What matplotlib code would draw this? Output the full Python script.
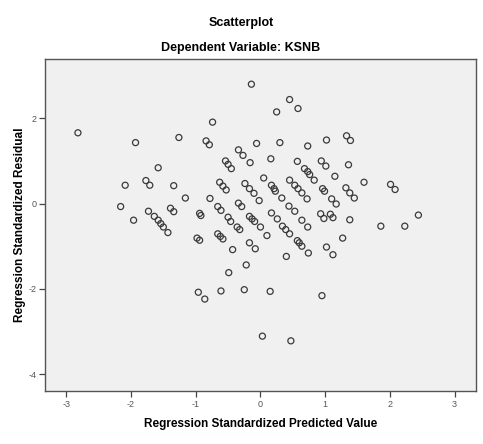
import matplotlib.pyplot as plt

# Regression Standardized Predicted Value
pred = [-0.14, -2.82, -1.93, -1.26, -0.74, -0.84, -0.79, -0.06, -0.34, -0.27,
        -0.16, -1.58, -0.54, -0.50, -0.45, -2.09, -1.77, -1.71, -1.34, -1.16,
        -0.78, -0.63, -0.58, -0.53, -0.24, -0.17, -0.10, -0.02, -2.16, -1.96,
        -1.73, -1.64, -1.58, -1.54, -1.50, -1.43, -1.39, -1.34, -0.94, -0.92,
        -0.66, -0.61, -0.34, -0.29, -0.50, -0.46, -0.36, -0.32, -0.17, -0.13,
        -0.09, 0.00, -0.98, -0.94, 0.30, 0.73, 0.16, 0.57, 0.94, 1.01,
        0.05, 0.45, 0.68, 0.73, 0.76, 0.83, 0.17, 0.21, 0.23, 0.53,
        0.58, 0.64, 0.72, 0.33, 0.96, 0.99, 0.17, 0.26, 0.44, 0.53,
        0.64, 0.73, 0.93, 0.98, 0.34, 0.39, 0.45, 0.10, -0.66, -0.62,
        -0.58, -0.43, -0.17, -0.08, 0.57, 0.60, 0.64, 0.74, 0.40, 1.02,
        0.45, 0.58, 0.25, 1.02, 1.33, 1.39, 1.36, 1.15, 1.60, 2.01,
        2.08, 2.44, 1.10, 1.17, 1.32, 1.38, 1.45, 1.08, 1.12, 1.38,
        1.86, 2.23, 1.27, 1.12, -0.22, -0.49, -0.96, -0.86, -0.61, -0.25,
        0.15, 0.95, 0.03, 0.47]

# Regression Standardized Residual
resid = [2.80, 1.66, 1.43, 1.55, 1.91, 1.47, 1.38, 1.41, 1.26, 1.13,
         0.96, 0.84, 1.00, 0.92, 0.82, 0.43, 0.54, 0.43, 0.42, 0.13,
         0.12, 0.50, 0.41, 0.32, 0.47, 0.35, 0.24, 0.07, -0.07, -0.39,
         -0.18, -0.30, -0.39, -0.47, -0.55, -0.68, -0.11, -0.19, -0.23, -0.28,
         -0.07, -0.16, 0.01, -0.07, -0.32, -0.42, -0.55, -0.61, -0.30, -0.36,
         -0.42, -0.55, -0.81, -0.86, 1.43, 1.35, 1.05, 0.99, 1.00, 0.88,
         0.60, 0.55, 0.82, 0.75, 0.68, 0.55, 0.43, 0.35, 0.29, 0.43,
         0.35, 0.25, 0.11, 0.13, 0.35, 0.29, -0.22, -0.36, -0.06, -0.18,
         -0.39, -0.55, -0.24, -0.35, -0.53, -0.61, -0.71, -0.75, -0.71, -0.77,
         -0.83, -1.08, -0.92, -1.06, -0.87, -0.92, -1.00, -1.16, -1.24, -1.02,
         2.44, 2.23, 2.15, 1.49, 1.59, 1.48, 0.91, 0.64, 0.50, 0.45,
         0.33, -0.27, 0.11, -0.01, 0.37, 0.25, 0.13, -0.25, -0.33, -0.38,
         -0.53, -0.53, -0.81, -1.20, -1.44, -1.62, -2.08, -2.24, -2.05, -2.02,
         -2.06, -2.16, -3.11, -3.22]

x_ticks = [-3, -2, -1, 0, 1, 2, 3]
y_ticks = [-4, -2, 0, 2]

plt.rcParams['font.family'] = ['Liberation Sans', 'DejaVu Sans']
plt.rcParams['axes.unicode_minus'] = False

fig = plt.figure(figsize=(4.83, 4.44), dpi=100)
ax = fig.add_axes([0.093, 0.12, 0.8925, 0.747])
ax.set_facecolor('#f0f0f0')

ax.scatter(pred, resid, s=19, facecolors='none', edgecolors='#3a3a3a',
           linewidths=0.9)

ax.set_xlim(-3.33, 3.33)
ax.set_ylim(-4.39, 3.39)
ax.set_xticks(x_ticks)
ax.set_yticks(y_ticks)
ax.tick_params(direction='out', length=4, width=0.9, colors='#444444',
               labelsize=6.5, labelcolor='#555555', pad=2)
ax.tick_params(axis='x', pad=3)
for s in ax.spines.values():
    s.set_color('#555555')
    s.set_linewidth(1.0)

ax.set_xlabel('Regression Standardized Predicted Value', fontsize=8.5,
              fontweight='bold')
ax.set_ylabel('Regression Standardized Residual', fontsize=8.5,
              fontweight='bold')
ax.xaxis.set_label_coords(0.5, -0.082)
ax.yaxis.set_label_coords(-0.045, 0.5)

fig.text(0.499, 0.948, 'Scatterplot', ha='center', va='center',
         fontsize=9, fontweight='bold')
fig.text(0.499, 0.892, 'Dependent Variable: KSNB', ha='center', va='center',
         fontsize=9, fontweight='bold')

fig.savefig('out.png', dpi=100)
